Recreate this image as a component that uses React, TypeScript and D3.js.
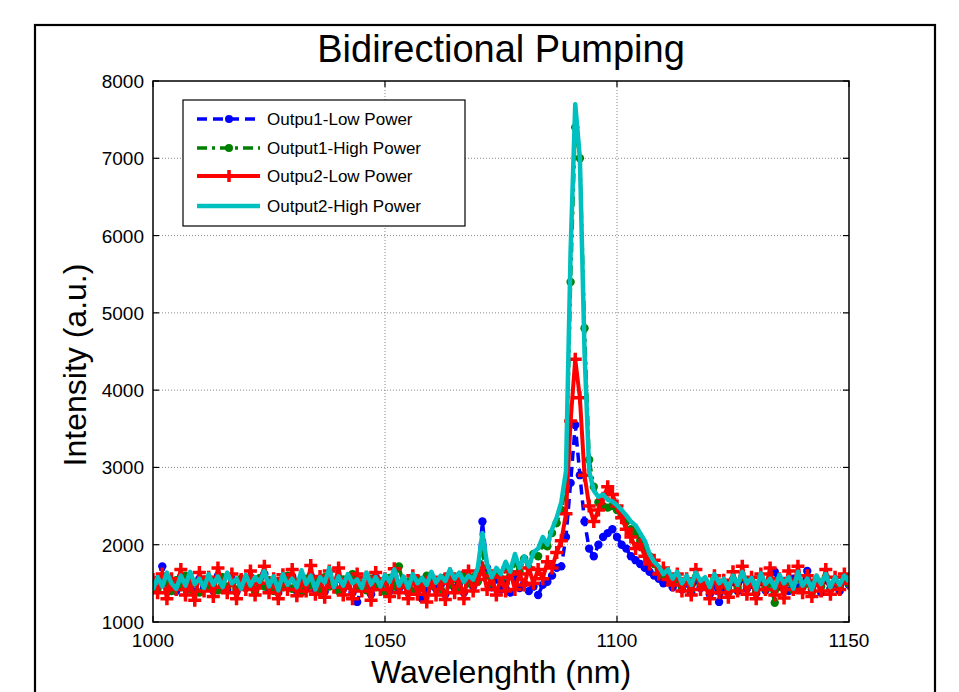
import React from "react";
import * as d3 from "d3";

// ---- data ----
const X_TICKS = [1000, 1050, 1100, 1150];
const Y_TICKS = [1000, 2000, 3000, 4000, 5000, 6000, 7000, 8000];
const WAVELENGTH_START = 1000; // nm, 1 nm sampling

const out1Low = [
  1480, 1550, 1720, 1450, 1520, 1400, 1580, 1460, 1530, 1380,
  1560, 1440, 1510, 1400, 1600, 1470, 1420, 1560, 1390, 1500,
  1450, 1580, 1410, 1490, 1620, 1430, 1520, 1380, 1550, 1460,
  1590, 1400, 1500, 1440, 1600, 1420, 1530, 1390, 1570, 1480,
  1560, 1430, 1500, 1380, 1260, 1450, 1540, 1360, 1580, 1450,
  1520, 1400, 1600, 1430, 1490, 1380, 1550, 1420, 1300, 1400,
  1520, 1430, 1480, 1360, 1560, 1440, 1500, 1380, 1580, 1460,
  1620, 2300, 1700, 1450, 1550, 1420, 1500, 1380, 1560, 1440,
  1500, 1400, 1460, 1350, 1480, 1520, 1600, 1700, 1720, 2100,
  2800, 3550, 2900, 2300, 1950, 1850, 2000, 2100, 2150, 2200,
  2100, 2000, 1950, 1850, 1800, 1750, 1700, 1650, 1600, 1560,
  1500, 1540, 1450, 1560, 1420, 1500, 1380, 1540, 1440, 1480,
  1360, 1500, 1260, 1450, 1380, 1520, 1400, 1560, 1430, 1480,
  1370, 1520, 1410, 1500, 1650, 1460, 1530, 1400, 1560, 1440,
  1500, 1660, 1420, 1520, 1380, 1540, 1430, 1500, 1400, 1530,
  1480,
];

const out1High = [
  1500, 1430, 1560, 1480, 1400, 1540, 1450, 1600, 1420, 1510,
  1380, 1550, 1470, 1530, 1410, 1580, 1460, 1500, 1420, 1560,
  1440, 1520, 1390, 1570, 1460, 1540, 1400, 1500, 1450, 1600,
  1430, 1520, 1380, 1560, 1480, 1540, 1420, 1580, 1460, 1510,
  1400, 1550, 1470, 1620, 1440, 1500, 1410, 1560, 1450, 1530,
  1390, 1570, 1460, 1720, 1480, 1520, 1400, 1560, 1440, 1600,
  1470, 1540, 1420, 1580, 1480, 1560, 1430, 1620, 1500, 1580,
  1520, 1900, 1600, 1500, 1640, 1560, 1700, 1600, 1780, 1650,
  1820, 1700, 1880, 1850, 2000, 1980, 2150, 2280, 2450, 2750,
  5400, 7400, 7000, 4800, 3100, 2750, 2550, 2500, 2480, 2500,
  2450, 2380, 2300, 2200, 2150, 2050, 1950, 1850, 1750, 1680,
  1600, 1580, 1520, 1560, 1450, 1540, 1420, 1580, 1480, 1520,
  1400, 1560, 1450, 1500, 1380, 1550, 1440, 1580, 1460, 1520,
  1400, 1560, 1430, 1500, 1250, 1540, 1460, 1520, 1410, 1570,
  1450, 1500, 1380, 1540, 1460, 1580, 1420, 1520, 1450, 1560,
  1500,
];

const out2Low = [
  1550, 1380, 1620, 1300, 1560, 1420, 1680, 1350, 1500, 1280,
  1640, 1400, 1580, 1330, 1700, 1450, 1380, 1620, 1300, 1550,
  1420, 1660, 1350, 1500, 1720, 1380, 1560, 1300, 1610, 1420,
  1680, 1340, 1540, 1400, 1730, 1360, 1590, 1320, 1660, 1450,
  1700, 1350, 1550, 1300, 1620, 1400, 1580, 1280, 1640, 1420,
  1560, 1330, 1690, 1380, 1520, 1300, 1600, 1360, 1480, 1260,
  1580, 1350, 1500, 1290, 1620, 1380, 1540, 1300, 1660, 1400,
  1550, 1700, 1420, 1600, 1350, 1580, 1400, 1650, 1420, 1620,
  1480, 1700, 1500, 1680, 1560, 1780, 1700, 1900, 2050, 2400,
  3600, 4400, 3900, 2900, 2500, 2300, 2450, 2600, 2750, 2650,
  2500, 2350, 2200, 2100, 1950, 2000, 1850, 1750, 1800, 1620,
  1700, 1550, 1480, 1620, 1400, 1560, 1350, 1680, 1420, 1500,
  1300, 1600, 1380, 1540, 1320, 1650, 1400, 1720, 1360, 1580,
  1300, 1620, 1420, 1700, 1350, 1560, 1310, 1660, 1420, 1720,
  1380, 1600, 1330, 1540, 1400, 1680, 1360, 1580, 1420, 1620,
  1500,
];

const out2High = [
  1420, 1580, 1460, 1640, 1500, 1430, 1600, 1470, 1650, 1490,
  1560, 1440, 1620, 1480, 1590, 1450, 1640, 1500, 1560, 1430,
  1610, 1470, 1580, 1520, 1660, 1460, 1590, 1410, 1620, 1480,
  1560, 1450, 1670, 1490, 1600, 1420, 1580, 1510, 1700, 1450,
  1590, 1470, 1620, 1500, 1550, 1440, 1640, 1490, 1580, 1460,
  1610, 1520, 1680, 1470, 1590, 1440, 1620, 1500, 1570, 1480,
  1650, 1510, 1600, 1530, 1680, 1560, 1640, 1520, 1600, 1550,
  1700, 2150, 1750, 1580, 1700, 1620, 1780, 1650, 1880, 1700,
  1850, 1720, 1900, 1950, 2100, 2000, 2200, 2350, 2550, 2950,
  5800, 7700, 7000, 4500, 2950, 2700, 2620, 2650, 2580, 2560,
  2510, 2450, 2380, 2300, 2250, 2150, 2050, 1880, 1780, 1720,
  1620, 1680, 1560, 1650, 1500, 1600, 1480, 1640, 1530, 1580,
  1450, 1620, 1500, 1560, 1430, 1600, 1480, 1650, 1500, 1570,
  1420, 1630, 1490, 1560, 1440, 1610, 1500, 1580, 1430, 1650,
  1470, 1560, 1420, 1600, 1490, 1620, 1450, 1580, 1480, 1600,
  1520,
];

const SERIES_NAMES = [
  "Outpu1-Low Power",
  "Output1-High Power",
  "Outpu2-Low Power",
  "Output2-High Power",
];

type Style = {
  color: string;
  width: number;
  dash?: string;
  marker: "dot" | "plus" | "none";
};

const STYLES: Style[] = [
  { color: "#0000FF", width: 3.5, dash: "10,6", marker: "dot" },
  { color: "#008000", width: 3.5, dash: "10,5,3,5", marker: "dot" },
  { color: "#FF0000", width: 4, marker: "plus" },
  { color: "#00BFBF", width: 4.5, marker: "none" },
];

const FONT = "'Liberation Sans', Arial, Helvetica, sans-serif";

export default function App() {
  const W = 959;
  const H = 692;
  const L = 153,
    R = 849,
    T = 81,
    B = 622;

  const x = d3.scaleLinear().domain([1000, 1150]).range([L, R]);
  const y = d3.scaleLinear().domain([1000, 8000]).range([B, T]);

  const allSeries = [out1Low, out1High, out2Low, out2High];
  const toPts = (vals: number[]) =>
    vals.map((v, i) => [WAVELENGTH_START + i, v] as [number, number]);

  const line = d3
    .line<[number, number]>()
    .x((d) => x(d[0]))
    .y((d) => y(d[1]))
    .curve(d3.curveLinear);

  const renderMarker = (st: Style, cx: number, cy: number, key: string, legend = false) => {
    if (st.marker === "dot")
      return <circle key={key} cx={cx} cy={cy} r={legend ? 4 : 4.2} fill={st.color} />;
    if (st.marker === "plus") {
      const s = legend ? 6 : 6.5;
      return (
        <path
          key={key}
          d={`M${cx - s},${cy}H${cx + s}M${cx},${cy - s}V${cy + s}`}
          stroke={st.color}
          strokeWidth={3.5}
          fill="none"
        />
      );
    }
    return null;
  };

  const legX = 183,
    legY = 100,
    legW = 282,
    legH = 126;
  const legRows = [119, 148, 176, 206];

  return (
    <svg
      width={W}
      height={H}
      style={{ position: "absolute", left: 0, top: 0, background: "#fff" }}
      fontFamily={FONT}
    >
      <rect x={0} y={0} width={W} height={H} fill="#fff" />
      {/* outer figure frame */}
      <rect x={35} y={25} width={900} height={700} fill="none" stroke="#000" strokeWidth={2.2} />

      {/* title */}
      <text x={(L + R) / 2} y={62} textAnchor="middle" fontSize={38} fill="#000">
        Bidirectional Pumping
      </text>

      <defs>
        <clipPath id="plotclip">
          <rect x={L} y={T - 2} width={R - L} height={B - T + 2} />
        </clipPath>
      </defs>

      {/* grid */}
      {X_TICKS.slice(1, -1).map((t) => (
        <line key={"gx" + t} x1={x(t)} x2={x(t)} y1={T} y2={B} stroke="#888" strokeWidth={1} strokeDasharray="1,2" />
      ))}
      {Y_TICKS.slice(1, -1).map((t) => (
        <line key={"gy" + t} x1={L} x2={R} y1={y(t)} y2={y(t)} stroke="#888" strokeWidth={1} strokeDasharray="1,2" />
      ))}

      {/* series */}
      <g clipPath="url(#plotclip)">
        {allSeries.map((vals, si) => {
          const st = STYLES[si];
          const pts = toPts(vals);
          return (
            <g key={"s" + si}>
              <path
                d={line(pts) || ""}
                fill="none"
                stroke={st.color}
                strokeWidth={st.width}
                strokeDasharray={st.dash}
                strokeLinejoin="round"
              />
              {st.marker !== "none" &&
                pts.map((p, i) => renderMarker(st, x(p[0]), y(p[1]), `m${si}-${i}`))}
            </g>
          );
        })}
      </g>

      {/* axes box */}
      <rect x={L} y={T} width={R - L} height={B - T} fill="none" stroke="#000" strokeWidth={1.5} />

      {/* ticks */}
      {X_TICKS.map((t) => (
        <g key={"xt" + t}>
          <line x1={x(t)} x2={x(t)} y1={B} y2={B - 6} stroke="#000" strokeWidth={1.2} />
          <line x1={x(t)} x2={x(t)} y1={T} y2={T + 6} stroke="#000" strokeWidth={1.2} />
          <text x={x(t)} y={647} textAnchor="middle" fontSize={19} fill="#000">
            {t}
          </text>
        </g>
      ))}
      {Y_TICKS.map((t) => (
        <g key={"yt" + t}>
          <line x1={L} x2={L + 6} y1={y(t)} y2={y(t)} stroke="#000" strokeWidth={1.2} />
          <line x1={R} x2={R - 6} y1={y(t)} y2={y(t)} stroke="#000" strokeWidth={1.2} />
          <text x={144} y={y(t) + 7} textAnchor="end" fontSize={19} fill="#000">
            {t}
          </text>
        </g>
      ))}

      {/* axis labels */}
      <text x={(L + R) / 2} y={683} textAnchor="middle" fontSize={32} fill="#000">
        Wavelenghth (nm)
      </text>
      <text
        transform={`translate(86,${365}) rotate(-90)`}
        textAnchor="middle"
        fontSize={32}
        fill="#000"
      >
        Intensity (a.u.)
      </text>

      {/* legend */}
      <rect x={legX} y={legY} width={legW} height={legH} fill="#fff" stroke="#000" strokeWidth={1.2} />
      {SERIES_NAMES.map((name, i) => {
        const st = STYLES[i];
        const yy = legRows[i];
        return (
          <g key={"lg" + i}>
            <line
              x1={197}
              x2={260}
              y1={yy}
              y2={yy}
              stroke={st.color}
              strokeWidth={st.width}
              strokeDasharray={st.dash}
            />
            {renderMarker(st, 229, yy, "lm" + i, true)}
            <text x={267} y={yy + 6} fontSize={17} fill="#000">
              {name}
            </text>
          </g>
        );
      })}
    </svg>
  );
}
